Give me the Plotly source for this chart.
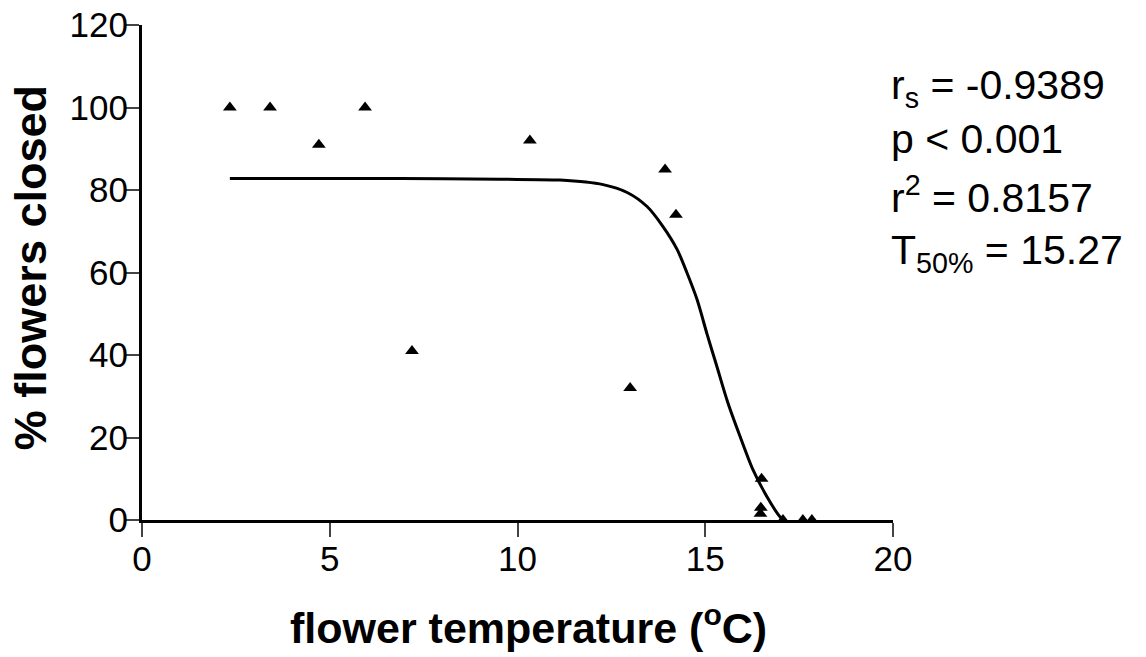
import plotly.graph_objects as go

# Observed data points (flower temperature °C, % flowers closed)
temp = [2.34, 3.41, 4.71, 5.94, 7.19, 10.33, 13.0, 13.93, 14.22, 16.5, 16.48, 16.47, 17.07, 17.6, 17.84]
closed = [100, 100, 91, 100, 41, 92, 32, 85, 74, 10, 3, 1.5, 0, 0, 0]

# Fitted sigmoid curve
fit_x = [2.34, 6.87, 9.53, 11.13, 12.28, 12.92, 13.45, 13.87, 14.25, 14.51, 14.78, 15.05,
         15.3, 15.6, 15.93, 16.27, 16.64, 16.99, 17.1]
fit_y = [82.8, 82.8, 82.6, 82.4, 81.3, 79.4, 76.0, 71.2, 65.6, 60.0, 53.5, 45.0,
         37.5, 28.5, 20.2, 12.2, 5.7, 0.8, 0.0]

x_ticks = [0, 5, 10, 15, 20]
y_ticks = [0, 20, 40, 60, 80, 100, 120]

stats = ["r<sub>s</sub> = -0.9389", "p < 0.001", "r<sup>2</sup> = 0.8157", "T<sub>50%</sub> = 15.27"]
stats_y = [0.873, 0.769, 0.657, 0.540]

x_title = "<b>flower temperature (<sup>o</sup>C)</b>"
y_title = "<b>% flowers closed</b>"

FONT = "Liberation Sans, Arial, sans-serif"

fig = go.Figure()
fig.add_trace(go.Scatter(x=fit_x, y=fit_y, mode="lines",
                         line=dict(color="black", width=3, shape="spline", smoothing=0.8),
                         hoverinfo="skip", showlegend=False, cliponaxis=False))
fig.add_trace(go.Scatter(x=temp, y=closed, mode="markers",
                         marker=dict(symbol="triangle-up", size=12, color="black"),
                         showlegend=False, cliponaxis=False))

for t, yy in zip(stats, stats_y):
    fig.add_annotation(text=t, xref="paper", yref="paper", x=0.995, y=yy, xanchor="left", yanchor="middle",
                       showarrow=False, font=dict(family=FONT, size=41, color="black"))

fig.add_annotation(text=x_title, xref="paper", yref="paper", x=0.514, y=-0.212,
                   xanchor="center", yanchor="middle", showarrow=False,
                   font=dict(family=FONT, size=43, color="black"))
fig.add_annotation(text=y_title, xref="paper", yref="paper", x=-0.149, y=0.509, textangle=-90,
                   xanchor="center", yanchor="middle", showarrow=False,
                   font=dict(family=FONT, size=45, color="black"))

fig.update_layout(
    width=1146, height=657,
    margin=dict(l=142, r=253, t=25, b=137),
    paper_bgcolor="white", plot_bgcolor="white",
    font=dict(family=FONT, color="black"),
    xaxis=dict(range=[0, 20], tickvals=x_ticks, ticks="outside", ticklen=14, tickwidth=2,
               showline=True, linewidth=3, linecolor="black", showgrid=False, zeroline=False,
               tickfont=dict(size=35), automargin=False, ticklabelstandoff=-8),
    yaxis=dict(range=[0, 120], tickvals=y_ticks, ticks="outside", ticklen=14, tickwidth=2,
               showline=True, linewidth=3, linecolor="black", showgrid=False, zeroline=False,
               tickfont=dict(size=35), automargin=False, ticklabelstandoff=-10),
)

fig.write_html("out.html")
